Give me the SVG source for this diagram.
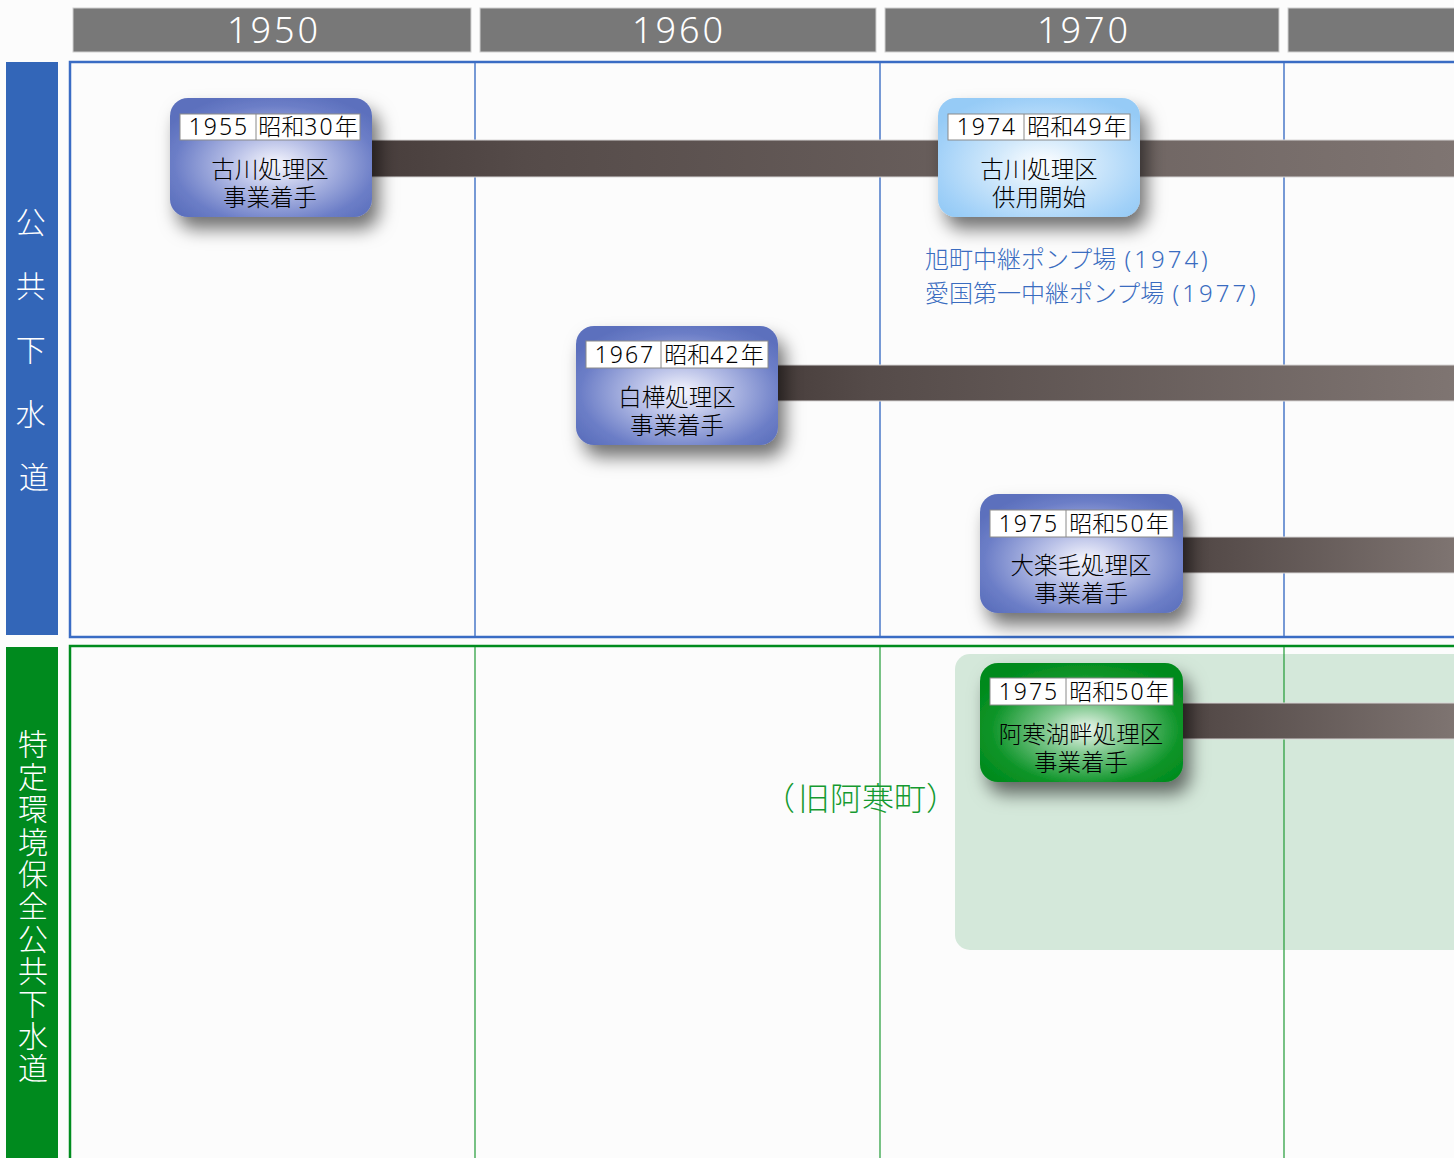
<svg xmlns="http://www.w3.org/2000/svg" width="1454" height="1158" viewBox="0 0 1454 1158">
  <defs>
    <style>
      .hdr { fill: #787878; stroke: #d0d0d0; stroke-width: 1; }
      .hdrtxt { font-family: "Noto Sans", "Noto Sans CJK JP", sans-serif; font-weight: 300; font-size: 36px; letter-spacing: 3px; fill: #ffffff; text-anchor: middle; }
      .side { font-family: "Noto Sans CJK JP", sans-serif; font-weight: 300; font-size: 30px; fill: #ffffff; text-anchor: middle; }
      .sidev { font-family: "Noto Sans CJK JP", sans-serif; font-weight: 300; font-size: 30px; fill: #ffffff; text-anchor: start; writing-mode: vertical-rl; letter-spacing: 2.4px; }
      .datebox { fill: #ffffff; stroke: #8a8a8a; stroke-width: 1; }
      .datediv { stroke: #8a8a8a; stroke-width: 1; }
      .date { font-family: "Noto Sans", "Noto Sans CJK JP", sans-serif; font-weight: 300; font-size: 23px; fill: #000000; text-anchor: middle; }
      .num { letter-spacing: 2px; }
      .title { font-family: "Noto Sans CJK JP", sans-serif; font-weight: 300; font-size: 23.5px; fill: #000000; text-anchor: middle; }
      .note { font-family: "Noto Sans CJK JP", sans-serif; font-weight: 300; font-size: 24px; fill: #3a6cc0; }
      .notenum { font-family: "Noto Sans", sans-serif; letter-spacing: 3px; }
      .bar { stroke: #d8d6d6; stroke-width: 1; }
      .vblue { stroke: #4a78c8; stroke-width: 1.5; }
      .vgreen { stroke: #1f9a35; stroke-width: 1.2; }
    </style>
    <radialGradient id="gBlue" cx="0.52" cy="0.56" r="0.62">
      <stop offset="0" stop-color="#f8f8fe"/>
      <stop offset="0.35" stop-color="#b8c0e7"/>
      <stop offset="0.8" stop-color="#6c7ec7"/>
      <stop offset="1" stop-color="#5c70bd"/>
    </radialGradient>
    <radialGradient id="gSky" cx="0.52" cy="0.56" r="0.62">
      <stop offset="0" stop-color="#ffffff"/>
      <stop offset="0.38" stop-color="#d2e9fb"/>
      <stop offset="0.85" stop-color="#a2d1f8"/>
      <stop offset="1" stop-color="#96cbf6"/>
    </radialGradient>
    <radialGradient id="gGreen" cx="0.52" cy="0.56" r="0.62">
      <stop offset="0" stop-color="#f0f8f0"/>
      <stop offset="0.33" stop-color="#7fc88e"/>
      <stop offset="0.75" stop-color="#0d9428"/>
      <stop offset="1" stop-color="#008a1c"/>
    </radialGradient>
    <linearGradient id="gBar" x1="0" y1="0" x2="1" y2="0">
      <stop offset="0" stop-color="#473d3b"/>
      <stop offset="0.15" stop-color="#554b49"/>
      <stop offset="1" stop-color="#7f7572"/>
    </linearGradient>
    <filter id="shadow" x="-25%" y="-25%" width="160%" height="170%">
      <feDropShadow dx="7" dy="12" stdDeviation="9" flood-color="#000000" flood-opacity="0.55"/>
    </filter>
  </defs>

  <rect width="1454" height="1158" fill="#fcfcfc"/>

  <!-- decade headers -->
  <g id="headers">
    <rect class="hdr" x="73" y="8" width="398" height="44"/>
    <rect class="hdr" x="480" y="8" width="396" height="44"/>
    <rect class="hdr" x="885" y="8" width="394" height="44"/>
    <rect class="hdr" x="1288" y="8" width="180" height="44"/>
    <text class="hdrtxt" x="274" y="43">1950</text>
    <text class="hdrtxt" x="679" y="43">1960</text>
    <text class="hdrtxt" x="1084" y="43">1970</text>
  </g>

  <!-- public sewerage lane -->
  <g id="lane-public">
    <rect x="6" y="62" width="52" height="573" fill="#3366b8"/>
    <text class="side">
      <tspan x="34" y="233">公</tspan>
      <tspan x="34" y="297">共</tspan>
      <tspan x="34" y="361">下</tspan>
      <tspan x="34" y="425">水</tspan>
      <tspan x="34" y="488">道</tspan>
    </text>
    <path d="M1460 62 H70 V637 H1460" fill="none" stroke="#3a6cc4" stroke-width="2.5"/>
    <line class="vblue" x1="475" y1="63" x2="475" y2="636"/>
    <line class="vblue" x1="880" y1="63" x2="880" y2="636"/>
    <line class="vblue" x1="1284" y1="63" x2="1284" y2="636"/>
  </g>

  <!-- special environment conservation sewerage lane -->
  <g id="lane-special">
    <rect x="6" y="647" width="52" height="520" fill="#008a1e"/>
    <text class="sidev" x="33" y="729">特定環境保全公共下水道</text>
    <path d="M1460 646 H70 V1170" fill="none" stroke="#008c1e" stroke-width="2.5"/>
    <rect id="akan-area" x="955" y="654" width="520" height="296" rx="15" fill="#d4e8da"/>
    <line class="vgreen" x1="475" y1="647" x2="475" y2="1158"/>
    <line class="vgreen" x1="880" y1="647" x2="880" y2="1158"/>
    <line class="vgreen" x1="1284" y1="647" x2="1284" y2="1158"/>
  </g>

  <!-- duration bars -->
  <g id="connectors">
    <rect class="bar" x="360" y="140" width="1100" height="37" fill="url(#gBar)"/>
    <rect class="bar" x="766" y="365" width="694" height="36" fill="url(#gBar)"/>
    <rect class="bar" x="1170" y="537" width="290" height="36" fill="url(#gBar)"/>
    <rect class="bar" x="1170" y="703" width="290" height="36" fill="url(#gBar)"/>
  </g>

  <g id="node-1955">
    <rect x="170" y="98" width="202" height="119" rx="18" fill="url(#gBlue)" filter="url(#shadow)"/>
    <rect class="datebox" x="180" y="114" width="180" height="26"/>
    <line class="datediv" x1="256" y1="114" x2="256" y2="140"/>
    <text class="date num" x="219" y="135">1955</text>
    <text class="date" x="308" y="135">昭和<tspan class="num">30</tspan>年</text>
    <text class="title" x="270" y="178">古川処理区</text>
    <text class="title" x="270" y="206">事業着手</text>
  </g>

  <g id="node-1974">
    <rect x="938" y="98" width="202" height="119" rx="18" fill="url(#gSky)" filter="url(#shadow)"/>
    <rect class="datebox" x="948" y="114" width="182" height="26"/>
    <line class="datediv" x1="1024" y1="114" x2="1024" y2="140"/>
    <text class="date num" x="987" y="135">1974</text>
    <text class="date" x="1077" y="135">昭和<tspan class="num">49</tspan>年</text>
    <text class="title" x="1039" y="178">古川処理区</text>
    <text class="title" x="1039" y="206">供用開始</text>
  </g>

  <g id="pump-notes">
    <text class="note" x="925" y="268">旭町中継ポンプ場 <tspan class="notenum" dx="3">(1974)</tspan></text>
    <text class="note" x="925" y="302">愛国第一中継ポンプ場 <tspan class="notenum" dx="3">(1977)</tspan></text>
  </g>

  <g id="node-1967">
    <rect x="576" y="326" width="202" height="119" rx="18" fill="url(#gBlue)" filter="url(#shadow)"/>
    <rect class="datebox" x="586" y="341" width="182" height="27"/>
    <line class="datediv" x1="661" y1="341" x2="661" y2="368"/>
    <text class="date num" x="625" y="363">1967</text>
    <text class="date" x="714" y="363">昭和<tspan class="num">42</tspan>年</text>
    <text class="title" x="677" y="406">白樺処理区</text>
    <text class="title" x="677" y="434">事業着手</text>
  </g>

  <g id="node-1975-otanoshike">
    <rect x="980" y="494" width="203" height="119" rx="18" fill="url(#gBlue)" filter="url(#shadow)"/>
    <rect class="datebox" x="990" y="510" width="183" height="27"/>
    <line class="datediv" x1="1066" y1="510" x2="1066" y2="537"/>
    <text class="date num" x="1029" y="532">1975</text>
    <text class="date" x="1119" y="532">昭和<tspan class="num">50</tspan>年</text>
    <text class="title" x="1081" y="574">大楽毛処理区</text>
    <text class="title" x="1081" y="602">事業着手</text>
  </g>

  <g id="node-1975-akanko">
    <rect x="980" y="663" width="203" height="119" rx="18" fill="url(#gGreen)" filter="url(#shadow)"/>
    <rect class="datebox" x="990" y="678" width="183" height="27"/>
    <line class="datediv" x1="1066" y1="678" x2="1066" y2="705"/>
    <text class="date num" x="1029" y="700">1975</text>
    <text class="date" x="1119" y="700">昭和<tspan class="num">50</tspan>年</text>
    <text class="title" x="1081" y="743">阿寒湖畔処理区</text>
    <text class="title" x="1081" y="771">事業着手</text>
  </g>

  <text id="old-akan" x="763" y="810" font-family="'Noto Sans CJK JP', sans-serif" font-weight="300" font-size="32" fill="#159a30">（<tspan dx="3">旧阿寒町</tspan>）</text>
</svg>
